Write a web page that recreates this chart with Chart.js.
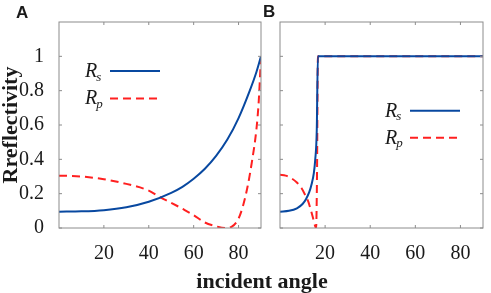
<!DOCTYPE html>
<html>
<head>
<meta charset="utf-8">
<script src="https://cdn.jsdelivr.net/npm/chart.js@4.4.0/dist/chart.umd.min.js"></script>
<style>
    body { margin: 0; background: #fff; }
    #wrap { position: relative; width: 491px; height: 293px; overflow: hidden; }
    canvas { position: absolute; top: 0; }
    .lbl { position: absolute; white-space: nowrap; color: #1a1a1a; }
</style>
</head>
<body>
<div id="wrap">
    <canvas id="chartA" width="266" height="293" style="left:0"></canvas>
    <canvas id="chartB" width="225" height="293" style="left:266px"></canvas>
    <div class="lbl" style="left:16px; top:4px; font: bold 17px/17px 'Liberation Sans', Arial, sans-serif;">A</div>
    <div class="lbl" style="left:263px; top:3px; font: bold 17px/17px 'Liberation Sans', Arial, sans-serif;">B</div>
    <div class="lbl" style="left:0; width:524px; text-align:center; top:270px; font: bold 22px/22px 'Liberation Serif', 'Times New Roman', serif;">incident angle</div>
</div>
<script>
// tick labels
const xTicks = [20, 40, 60, 80];
const yTicks = [0, 0.2, 0.4, 0.6, 0.8, 1];
const yTickLabels = ['0', '0.2', '0.4', '0.6', '0.8', '1'];

// legend text (R with subscript)
const legendMain = ['R', 'R'];
const legendSub = ['s', 'p'];

// panel A
const rsAngleA = [0, 10, 20, 30, 40, 50, 55, 60, 65, 70, 75, 80, 85, 88, 90];
const rsA = [0.095, 0.097, 0.104, 0.121, 0.153, 0.205, 0.24, 0.287, 0.345, 0.42, 0.515, 0.64, 0.80, 0.91, 1.0];
const rpAngleA = [0, 10, 20, 30, 40, 45, 50, 55, 60, 65, 70, 74, 77, 80, 82, 84, 86, 88, 89, 90];
const rpA = [0.305, 0.3, 0.284, 0.257, 0.218, 0.18, 0.147, 0.112, 0.075, 0.032, 0.01, 0, 0.008, 0.055, 0.13, 0.24, 0.39, 0.58, 0.74, 1.0];

// panel B
const rsAngleB = [0, 4, 7.5, 10, 11.5, 13, 14, 15, 15.6, 16.3, 16.8, 90];
const rsB = [0.095, 0.1, 0.115, 0.14, 0.168, 0.21, 0.255, 0.32, 0.395, 0.57, 1.0, 1.0];
const rpAngleB = [0, 2.5, 5, 7.5, 9.5, 11, 12.5, 13.5, 14.5, 15.6, 16, 16.4, 16.8, 90];
const rpB = [0.31, 0.305, 0.29, 0.265, 0.233, 0.197, 0.155, 0.113, 0.066, 0.01, 0, 0.3, 1.0, 1.0];

const BLUE = 'rgb(8,72,160)';
const RED = 'rgb(255,32,32)';
const SERIF = "'Liberation Serif', 'Times New Roman', serif";

Chart.defaults.font.family = SERIF;

function pts(xs, ys) {
    return xs.map((x, i) => ({ x: x, y: ys[i] }));
}

// box with inward ticks on all four sides
const framePlugin = {
    id: 'frame',
    afterDraw(chart) {
        const { ctx, chartArea: a, scales } = chart;
        ctx.save();
        ctx.strokeStyle = '#8c8c8c';
        ctx.lineWidth = 1;
        ctx.strokeRect(a.left, a.top, a.right - a.left, a.bottom - a.top);
        ctx.beginPath();
        xTicks.forEach(v => {
            const px = scales.x.getPixelForValue(v);
            ctx.moveTo(px, a.bottom); ctx.lineTo(px, a.bottom - 3);
            ctx.moveTo(px, a.top); ctx.lineTo(px, a.top + 3);
        });
        yTicks.forEach(v => {
            const py = scales.y.getPixelForValue(v);
            ctx.moveTo(a.left, py); ctx.lineTo(a.left + 3, py);
            ctx.moveTo(a.right, py); ctx.lineTo(a.right - 3, py);
        });
        ctx.stroke();
        ctx.restore();
    }
};

// legend with italic R and subscript
const texLegend = {
    id: 'texLegend',
    afterDatasetsDraw(chart, args, opts) {
        const { ctx, chartArea: a } = chart;
        ctx.save();
        chart.data.datasets.forEach((ds, i) => {
            const y = a.top + opts.y + i * opts.gap;
            ctx.fillStyle = '#1a1a1a';
            ctx.textBaseline = 'alphabetic';
            ctx.textAlign = 'left';
            ctx.font = 'italic 20px ' + SERIF;
            ctx.fillText(legendMain[i], a.left + opts.textX, y + 6);
            const w = ctx.measureText(legendMain[i]).width;
            ctx.font = 'italic 13px ' + SERIF;
            ctx.fillText(legendSub[i], a.left + opts.textX + w - 1, y + 9.5);
            ctx.strokeStyle = ds.borderColor;
            ctx.lineWidth = 2;
            ctx.setLineDash(ds.borderDash || []);
            ctx.beginPath();
            ctx.moveTo(a.left + opts.lineX0, y);
            ctx.lineTo(a.left + opts.lineX1, y);
            ctx.stroke();
        });
        ctx.restore();
    }
};

function makeData(rsX, rsY, rpX, rpY) {
    return {
        datasets: [{
            label: 'Rs',
            data: pts(rsX, rsY),
            borderColor: BLUE,
            borderWidth: 2,
            pointRadius: 0,
            cubicInterpolationMode: 'monotone',
            fill: false
        }, {
            label: 'Rp',
            data: pts(rpX, rpY),
            borderColor: RED,
            borderWidth: 2,
            borderDash: [8, 5],
            pointRadius: 0,
            cubicInterpolationMode: 'monotone',
            fill: false
        }]
    };
}

function getChartOptions(showY, padding, legendPos) {
    return {
        responsive: false,
        animation: false,
        devicePixelRatio: 1,
        layout: { padding: padding },
        scales: {
            x: {
                type: 'linear',
                min: 0,
                max: 90,
                afterBuildTicks: s => { s.ticks = xTicks.map(v => ({ value: v })); },
                afterFit: s => { s.height = 65; },
                grid: { display: false },
                border: { display: false },
                ticks: {
                    autoSkip: false,
                    maxRotation: 0,
                    padding: 6,
                    color: '#1a1a1a',
                    font: { family: SERIF, size: 20 },
                    callback: v => String(v)
                }
            },
            y: {
                display: showY,
                min: 0,
                max: 1.2,
                afterBuildTicks: s => { s.ticks = yTicks.map(v => ({ value: v })); },
                afterFit: s => { s.width = showY ? 59 : 0; },
                grid: { display: false },
                border: { display: false },
                ticks: {
                    autoSkip: false,
                    padding: 7,
                    color: '#1a1a1a',
                    font: { family: SERIF, size: 20 },
                    callback: (v, i) => yTickLabels[i]
                },
                title: {
                    display: true,
                    text: 'Rreflectivity',
                    color: '#1a1a1a',
                    padding: { top: 0, bottom: 0 },
                    font: { family: SERIF, size: 22, weight: 'bold', lineHeight: 1 }
                }
            }
        },
        plugins: {
            legend: { display: false },
            tooltip: { enabled: false },
            texLegend: legendPos
        }
    };
}

new Chart(document.getElementById('chartA').getContext('2d'), {
    type: 'line',
    data: makeData(rsAngleA, rsA, rpAngleA, rpA),
    options: getChartOptions(true, { top: 22, right: 5, left: 0, bottom: 0 },
        { textX: 26, lineX0: 51, lineX1: 101, y: 49, gap: 27.4 }),
    plugins: [framePlugin, texLegend]
});

new Chart(document.getElementById('chartB').getContext('2d'), {
    type: 'line',
    data: makeData(rsAngleB, rsB, rpAngleB, rpB),
    options: getChartOptions(false, { top: 22, right: 8, left: 14, bottom: 0 },
        { textX: 105, lineX0: 130, lineX1: 180, y: 88.7, gap: 27 }),
    plugins: [framePlugin, texLegend]
});
</script>
</body>
</html>
